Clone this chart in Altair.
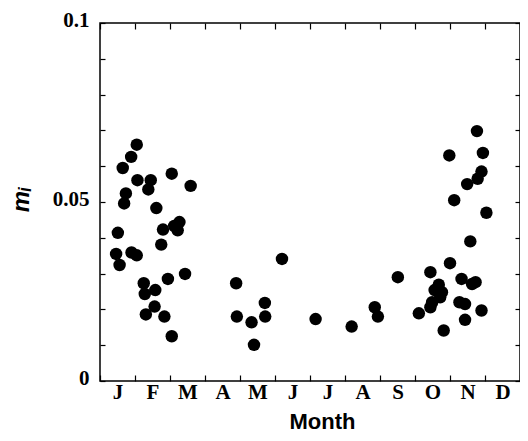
import altair as alt
import pandas as pd

month_letters = ["J", "F", "M", "A", "M", "J", "J", "A", "S", "O", "N", "D"]

# x: month position (0 = start of January, 12 = end of December); y: m_i
month_pos = [
    1.05, 0.89, 0.65, 1.07, 1.45, 1.38, 2.05, 2.59, 0.74, 0.69,
    1.61, 0.51, 1.80, 2.12, 2.27, 2.22, 1.75, 0.46, 0.90, 1.05,
    0.56, 2.43, 1.94, 1.25, 1.58, 1.28, 1.56, 1.31, 1.84, 2.05,
    3.89, 3.91, 4.33, 4.40, 4.71, 4.72, 5.20, 6.16, 7.19, 7.85,
    7.94, 8.51,
    9.11, 9.44, 9.56, 9.68, 9.72, 9.77, 9.49, 9.44, 9.82, 10.00,
    10.12, 10.49, 10.79, 11.04, 10.58, 10.33, 10.63, 10.73, 10.27, 10.43,
    10.43, 10.90, 10.77, 9.98, 10.94, 10.90,
]
m_values = [
    0.0660, 0.0626, 0.0595, 0.0561, 0.0561, 0.0535, 0.0579, 0.0545, 0.0524, 0.0496,
    0.0483, 0.0414, 0.0423, 0.0433, 0.0444, 0.0421, 0.0381, 0.0355, 0.0359, 0.0351,
    0.0324, 0.0299, 0.0285, 0.0273, 0.0254, 0.0243, 0.0208, 0.0186, 0.0180, 0.0125,
    0.0273, 0.0180, 0.0164, 0.0101, 0.0218, 0.0180, 0.0341, 0.0173, 0.0152, 0.0206,
    0.0180, 0.0290,
    0.0189, 0.0304, 0.0254, 0.0269, 0.0234, 0.0248, 0.0220, 0.0206, 0.0141, 0.0329,
    0.0505, 0.0550, 0.0565, 0.0470, 0.0390, 0.0285, 0.0271, 0.0276, 0.0220, 0.0215,
    0.0171, 0.0197, 0.0698, 0.0630, 0.0637, 0.0585,
]

y_label_values = [0, 0.05, 0.1]
y_minor_ticks = [i / 100 for i in range(0, 11)]
month_bounds = list(range(0, 13))
month_centers = [i + 0.5 for i in range(12)]

df = pd.DataFrame({"month": month_pos, "m": m_values})

xscale = alt.Scale(domain=[0, 12], nice=False, zero=False)
yscale = alt.Scale(domain=[0, 0.1], nice=False, zero=True)

letters_js = "[" + ",".join("'%s'" % s for s in month_letters) + "]"

serif = "Liberation Serif"
sans = "Liberation Sans"

x_label_axis = alt.Axis(
    orient="bottom", values=month_centers, labelExpr=letters_js + "[floor(datum.value)]",
    tickSize=0, domain=False, grid=False, labelFont=serif, labelFontSize=21,
    labelFontWeight="bold", labelColor="black", labelPadding=0, labelFlush=False,
    labelOverlap=False, labelBound=False,
    title="Month", titleFont=sans, titleFontSize=22, titleFontWeight="bold",
    titleColor="black", titleX=222, titleY=40, titleBaseline="middle", titleAlign="center",
)
y_label_axis = alt.Axis(
    orient="left", values=y_label_values, format="~g", tickSize=0, domain=False,
    grid=False, labelFont=serif, labelFontSize=21, labelFontWeight="bold",
    labelColor="black", labelPadding=11, labelOffset=-3, labelFlush=False,
    labelOverlap=False, labelBound=False, labelBaseline="middle",
    title="mᵢ", titleFont=sans, titleFontSize=24, titleFontWeight="bold",
    titleFontStyle="italic", titleColor="black", titleAngle=-90, titleX=-79, titleY=176,
    titleAlign="center", titleBaseline="middle",
)

def tick_axis(orient, values, size):
    return alt.Axis(
        orient=orient, values=values, labels=False, domain=False, grid=False,
        tickSize=size, offset=-size, tickColor="black", tickWidth=1.2, title=None,
    )

points = alt.Chart(df).mark_circle(size=155, color="black", opacity=1).encode(
    x=alt.X("month:Q", scale=xscale, axis=x_label_axis),
    y=alt.Y("m:Q", scale=yscale, axis=y_label_axis),
)

ticks_tr = alt.Chart(df).mark_circle(opacity=0).encode(
    x=alt.X("month:Q", scale=xscale, axis=tick_axis("top", month_bounds, 6)),
    y=alt.Y("m:Q", scale=yscale, axis=tick_axis("right", y_minor_ticks, 5)),
)

ticks_bl = alt.Chart(df).mark_circle(opacity=0).encode(
    x=alt.X("month:Q", scale=xscale, axis=tick_axis("bottom", month_bounds, 6)),
    y=alt.Y("m:Q", scale=yscale, axis=tick_axis("left", y_minor_ticks, 5)),
)

chart = (
    alt.layer(ticks_tr, ticks_bl, points)
    .resolve_axis(x="independent", y="independent")
    .properties(
        width=420, height=358,
        autosize=alt.AutoSizeParams(type="none"),
        padding={"left": 92, "top": 15, "right": 0, "bottom": 52},
        background="white",
    )
    .configure_view(stroke="black", strokeWidth=1.5)
)

chart.save("out.html", embed_options={"renderer": "svg", "actions": False})
